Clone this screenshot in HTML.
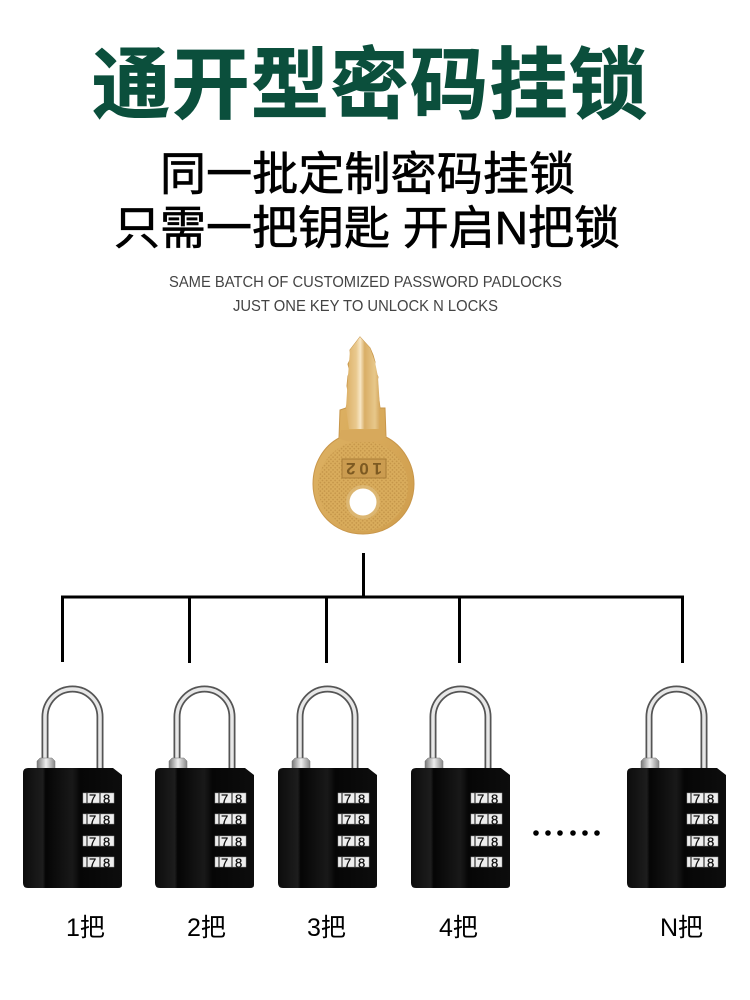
<!DOCTYPE html>
<html><head><meta charset="utf-8"><style>
html,body{margin:0;padding:0;background:#fff}
svg{display:block}
.cjk{font-family:"Liberation Sans","Noto Sans CJK SC",sans-serif}
.d{font-family:"Liberation Sans",sans-serif;font-size:13px;fill:#111;stroke:#111;stroke-width:.3}
</style></head><body>
<svg width="750" height="1000" viewBox="0 0 750 1000" xmlns="http://www.w3.org/2000/svg">
<defs>
<linearGradient id="gold" x1="0" y1="0" x2="1" y2="1"><stop offset="0" stop-color="#e0b768"/><stop offset=".5" stop-color="#d9ab5c"/><stop offset="1" stop-color="#cf9d4c"/></linearGradient>
<linearGradient id="blade" x1="0" y1="0" x2="1" y2="0"><stop offset="0" stop-color="#dcb066"/><stop offset=".3" stop-color="#e9c98e"/><stop offset=".42" stop-color="#f7e6c4"/><stop offset=".55" stop-color="#d9ae66"/><stop offset=".85" stop-color="#e7c78a"/><stop offset="1" stop-color="#d4a75c"/></linearGradient>
<linearGradient id="body" x1="0" y1="0" x2="1" y2="0"><stop offset="0" stop-color="#0c0c0c"/><stop offset=".2" stop-color="#1d1d1d"/><stop offset=".23" stop-color="#050505"/><stop offset=".5" stop-color="#191919"/><stop offset=".58" stop-color="#060606"/><stop offset="1" stop-color="#0d0d0d"/></linearGradient>
<linearGradient id="steel" x1="0" y1="0" x2="1" y2="0"><stop offset="0" stop-color="#777"/><stop offset=".5" stop-color="#eee"/><stop offset="1" stop-color="#888"/></linearGradient>
<pattern id="tex" width="3" height="3" patternUnits="userSpaceOnUse" patternTransform="rotate(45)"><rect width="3" height="3" fill="#d9ac5c"/><rect width="1.500" height="1.500" fill="#c5964a"/></pattern>
<symbol id="lock" width="110" height="215" viewBox="0 0 110 215" overflow="visible">
<path d="M22 88V44A27.500 28 0 0 1 77 44V96" fill="none" stroke="#555" stroke-width="7"/>
<path d="M22 88V44A27.500 28 0 0 1 77 44V96" fill="none" stroke="#e8e8e8" stroke-width="3.500"/>
<path d="M14 96V88L17 85H29L32 88V96Z" fill="url(#steel)" stroke="#777" stroke-width=".5"/>
<path d="M5 95H90L99 102V212Q99 215 95 215H5Q0 215 0 210V100Q0 95 5 95Z" fill="url(#body)"/>
<rect x="60" y="120" width="31" height="10" fill="#eee" stroke="#999" stroke-width=".5"/><rect x="60" y="141" width="31" height="10" fill="#eee" stroke="#999" stroke-width=".5"/><rect x="60" y="163" width="31" height="10" fill="#eee" stroke="#999" stroke-width=".5"/><rect x="60" y="184" width="31" height="10" fill="#eee" stroke="#999" stroke-width=".5"/>
<path d="M64 120v10M64 141v10M64 163v10M64 184v10M77 120v10M77 141v10M77 163v10M77 184v10" stroke="#333" stroke-width="1.200"/>
</symbol>
</defs>
<rect width="750" height="1000" fill="#fff"/>
<text class="cjk" x="92" y="112" font-size="78" font-weight="700" fill="#0b4f3c" stroke="#0b4f3c" stroke-width="1" textLength="555" lengthAdjust="spacing">通开型密码挂锁</text>
<text class="cjk" x="160" y="190" font-size="46" font-weight="400" fill="#000" stroke="#000" stroke-width=".7" textLength="415">同一批定制密码挂锁</text>
<text class="cjk" x="114" y="244" font-size="46" font-weight="400" fill="#000" stroke="#000" stroke-width=".7" textLength="506">只需一把钥匙 开启N把锁</text>
<text x="169" y="287" font-family="Liberation Sans,sans-serif" font-size="16" fill="#444" textLength="393" lengthAdjust="spacingAndGlyphs">SAME BATCH OF CUSTOMIZED PASSWORD PADLOCKS</text>
<text x="233" y="311" font-family="Liberation Sans,sans-serif" font-size="16" fill="#444" textLength="265" lengthAdjust="spacingAndGlyphs">JUST ONE KEY TO UNLOCK N LOCKS</text>

<!-- key -->
<path d="M340 410L346 408L349 397L347 386L348 376L350 372L348 364L351 358L350 350L360 337L370 348L373 355L375 362L374 368L378 377L376 386L378 393L380 408L385 408L386 437C402 445 414 463 414 484C414 512 392 534 363 534C334 534 313 512 313 484C313 463 324 446 339 438Z" fill="url(#gold)" stroke="#c8964a" stroke-width="1"/>
<circle cx="363" cy="486" r="45" fill="url(#tex)"/>
<path d="M350 350L360 337L370 348L375 362L378 377L380 408L379 429H349L346 408L348 376Z" fill="url(#blade)"/>
<path d="M339 438C346 444 380 444 386 437L384 430H341Z" fill="#d7a95c"/>
<rect x="342" y="459" width="44" height="19" fill="#cb9c50" stroke="#a87c36"/>
<text transform="rotate(180 364 469)" x="364" y="475" text-anchor="middle" font-family="Liberation Sans,sans-serif" font-size="17" font-weight="700" fill="#7d5a22" textLength="36" lengthAdjust="spacing">102</text>
<circle cx="363" cy="502" r="17" fill="#dcb671"/><circle cx="363" cy="502" r="13.500" fill="#fff"/>

<!-- tree -->
<g stroke="#000" stroke-width="3" fill="none">
<path d="M363.500 553V597"/><path d="M61 597H684"/>
<path d="M62.500 597V662"/><path d="M189.500 597V663"/><path d="M326.500 597V663"/><path d="M459.500 597V663"/><path d="M682.500 597V663"/>
</g>

<!-- locks -->
<use href="#lock" x="23" y="673"/>
<g><text class="d" x="89" y="803.500">7</text><text class="d" x="103" y="803.500">8</text><text class="d" x="89" y="824.500">7</text><text class="d" x="103" y="824.500">8</text><text class="d" x="89" y="846.500">7</text><text class="d" x="103" y="846.500">8</text><text class="d" x="89" y="867.500">7</text><text class="d" x="103" y="867.500">8</text></g>
<use href="#lock" x="155" y="673"/>
<g><text class="d" x="221" y="803.500">7</text><text class="d" x="235" y="803.500">8</text><text class="d" x="221" y="824.500">7</text><text class="d" x="235" y="824.500">8</text><text class="d" x="221" y="846.500">7</text><text class="d" x="235" y="846.500">8</text><text class="d" x="221" y="867.500">7</text><text class="d" x="235" y="867.500">8</text></g>
<use href="#lock" x="278" y="673"/>
<g><text class="d" x="344" y="803.500">7</text><text class="d" x="358" y="803.500">8</text><text class="d" x="344" y="824.500">7</text><text class="d" x="358" y="824.500">8</text><text class="d" x="344" y="846.500">7</text><text class="d" x="358" y="846.500">8</text><text class="d" x="344" y="867.500">7</text><text class="d" x="358" y="867.500">8</text></g>
<use href="#lock" x="411" y="673"/>
<g><text class="d" x="477" y="803.500">7</text><text class="d" x="491" y="803.500">8</text><text class="d" x="477" y="824.500">7</text><text class="d" x="491" y="824.500">8</text><text class="d" x="477" y="846.500">7</text><text class="d" x="491" y="846.500">8</text><text class="d" x="477" y="867.500">7</text><text class="d" x="491" y="867.500">8</text></g>
<use href="#lock" x="627" y="673"/>
<g><text class="d" x="693" y="803.500">7</text><text class="d" x="707" y="803.500">8</text><text class="d" x="693" y="824.500">7</text><text class="d" x="707" y="824.500">8</text><text class="d" x="693" y="846.500">7</text><text class="d" x="707" y="846.500">8</text><text class="d" x="693" y="867.500">7</text><text class="d" x="707" y="867.500">8</text></g>

<!-- dots -->
<g fill="#000"><circle cx="536" cy="833" r="2.800"/><circle cx="548" cy="833" r="2.800"/><circle cx="560" cy="833" r="2.800"/><circle cx="573" cy="833" r="2.800"/><circle cx="585" cy="833" r="2.800"/><circle cx="597" cy="833" r="2.800"/></g>

<!-- labels -->
<g class="cjk" font-size="25" fill="#000">
<text x="66" y="936">1把</text><text x="187" y="936">2把</text><text x="307" y="936">3把</text><text x="439" y="936">4把</text><text x="660" y="936">N把</text>
</g>
</svg>
</body></html>
